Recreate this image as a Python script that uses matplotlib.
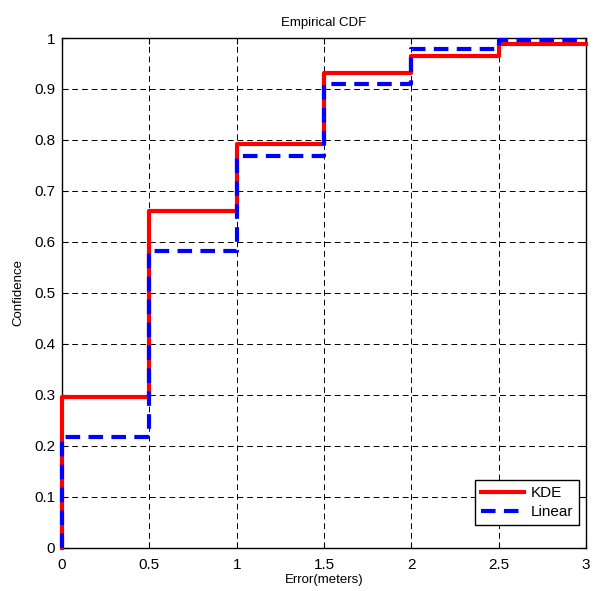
import numpy as np
import matplotlib.pyplot as plt

plt.rcParams['font.family'] = ['Liberation Sans', 'DejaVu Sans']

# step positions (error in meters) and CDF levels
edges = [0, 0.5, 1.0, 1.5, 2.0, 2.5, 3.0]
kde = [0.296, 0.660, 0.792, 0.931, 0.965, 0.988]
linear = [0.218, 0.582, 0.769, 0.910, 0.978, 0.996]

x = [0] + edges
y_kde = [0] + kde + [kde[-1]]
y_lin = [0] + linear + [linear[-1]]

fig = plt.figure(figsize=(5.93, 5.91), dpi=100)
ax = fig.add_axes([0.1046, 0.0728, 0.8836, 0.8629])

ax.plot(x, y_kde, drawstyle='steps-post', color='red', lw=3, label='KDE',
        clip_on=False, zorder=3)
ax.plot(x, y_lin, drawstyle='steps-post', color='blue', lw=3,
        dashes=(3.5, 2), label='Linear', clip_on=False, zorder=3)

ax.set_xlim(0, 3)
ax.set_ylim(0, 1)
ax.set_xticks(np.arange(0, 3.01, 0.5))
ax.set_yticks(np.arange(0, 1.01, 0.1))
ax.set_xticklabels(['0', '0.5', '1', '1.5', '2', '2.5', '3'])
ax.set_yticklabels(['0'] + ['%.1f' % v for v in np.arange(0.1, 0.95, 0.1)] + ['1'])
ax.tick_params(direction='in', top=True, right=True, labelsize=11, length=4)
ax.tick_params(axis='x', pad=7)
ax.tick_params(axis='y', pad=5)
ax.grid(True, color='black', linestyle=(0, (6, 4)), lw=0.7)
for s in ax.spines.values():
    s.set_linewidth(1)
    s.set_zorder(2)

ax.set_title('Empirical CDF', fontsize=9.5, pad=9)
ax.set_xlabel('Error(meters)', fontsize=9.5, labelpad=2)
ax.set_ylabel('Confidence', fontsize=9.5, labelpad=7)

leg = ax.legend(loc='lower right', bbox_to_anchor=(0.9866, 0.045), fontsize=11,
                fancybox=False, framealpha=1, edgecolor='black', handlelength=2.8,
                borderaxespad=0, borderpad=0.4, labelspacing=0.3, handletextpad=0.4)
leg.get_frame().set_linewidth(1)
leg.set_zorder(5)

fig.savefig('out.png', dpi=100)
